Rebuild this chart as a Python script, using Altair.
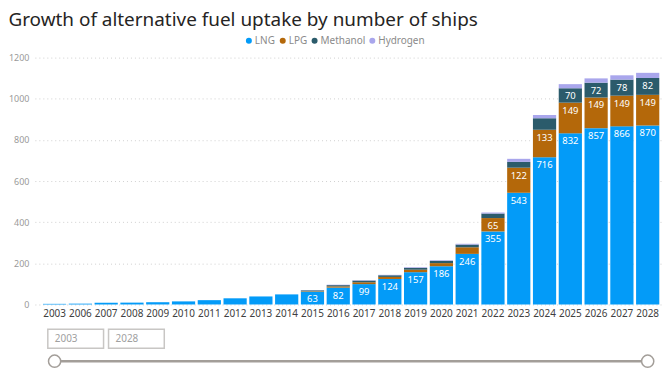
import altair as alt
import pandas as pd

years = [2003, 2006, 2007, 2008, 2009, 2010, 2011, 2012, 2013, 2014, 2015, 2016,
         2017, 2018, 2019, 2020, 2021, 2022, 2023, 2024, 2025, 2026, 2027, 2028]
lng = [3, 4, 8, 9, 11, 15, 21, 30, 39, 49, 63, 82,
       99, 124, 157, 186, 246, 355, 543, 716, 832, 857, 866, 870]
lpg = [0, 0, 0, 0, 0, 0, 0, 0, 0, 0, 3, 6,
       9, 10, 12, 15, 32, 65, 122, 133, 149, 149, 149, 149]
methanol = [0, 0, 0, 0, 0, 0, 0, 0, 0, 0, 3, 6,
            8, 8, 9, 11, 13, 22, 28, 56, 70, 72, 78, 82]
hydrogen = [0, 0, 0, 0, 0, 0, 0, 0, 0, 0, 1, 2,
            2, 2, 3, 3, 4, 5, 15, 16, 20, 21, 21, 25]
fuels = ["LNG", "LPG", "Methanol", "Hydrogen"]
colors = ["#039BF8", "#B4680A", "#2B5B6B", "#A9A6EC"]
y_ticks = [0, 200, 400, 600, 800, 1000, 1200]

FONT = "Noto Sans"

rows = []
for i, yr in enumerate(years):
    for k, vals in enumerate([lng, lpg, methanol, hydrogen]):
        rows.append({"year": str(yr), "fuel": fuels[k], "value": vals[i], "order": k})
df = pd.DataFrame(rows)

xscale = alt.Scale(domain=[str(y) for y in years], paddingInner=0.1,
                   paddingOuter=0.21, align=0.75)
x_enc = alt.X("year:O", scale=xscale, sort=None,
              axis=alt.Axis(title=None, labelAngle=0, ticks=False, domain=False,
                            labelColor="#404040", labelFontSize=10, labelPadding=4,
                            labelFont=FONT))

base = alt.Chart(df).transform_stack(
    stack="value", groupby=["year"], as_=["v0", "v1"],
    sort=[alt.SortField("order", order="ascending")])

bars = base.mark_bar().encode(
    x=x_enc,
    y=alt.Y("v0:Q", scale=alt.Scale(domain=[0, 1200]),
            axis=alt.Axis(title=None, values=y_ticks, format="d", ticks=False, domain=False,
                          gridDash=[1, 3], gridColor="#D0D0D0", labelColor="#9A9A9A",
                          labelFontSize=9, labelPadding=6, labelFont=FONT)),
    y2="v1:Q",
    color=alt.Color("fuel:N", scale=alt.Scale(domain=fuels, range=colors),
                    legend=alt.Legend(title=None, orient="none", legendX=210, legendY=-22,
                                      direction="horizontal", symbolType="circle",
                                      symbolSize=36, labelFontSize=10, labelColor="#8A8A8A",
                                      labelFont=FONT, columnPadding=2, labelOffset=1,
                                      symbolStrokeWidth=0)),
    order=alt.Order("order:Q"),
)

labels = base.transform_filter("datum.value >= 60").mark_text(
    color="white", fontSize=9.5, baseline="middle", dy=8, font=FONT
).encode(x=x_enc, y="v1:Q", text="value:Q")

# slicer widget below the chart
slider_df = pd.DataFrame({"year": [str(years[0]), str(years[-1])]})
slider_line = alt.Chart(slider_df).mark_line(color="#A39E99", strokeWidth=2.5).encode(
    x=x_enc, y=alt.value(305))
slider_knobs = alt.Chart(slider_df).mark_point(
    filled=True, fill="white", stroke="#A39E99", strokeWidth=1.5, size=150, opacity=1
).encode(x=x_enc, y=alt.value(305))

box_layers = []
for i, lab in enumerate([str(years[0]), str(years[-1])]):
    one = pd.DataFrame({"label": [lab]})
    box_layers.append(alt.Chart(one).mark_rect(fill="white", stroke="#C8C6C4", strokeWidth=1.5).encode(
        x=alt.value(13 + 61 * i), x2=alt.value(69 + 61 * i), y=alt.value(273), y2=alt.value(292)))
    box_layers.append(alt.Chart(one).mark_text(align="left", baseline="middle", fontSize=10,
                                               color="#A0A0A0", font=FONT).encode(
        x=alt.value(20 + 61 * i), y=alt.value(283), text="label:N"))

chart = alt.layer(bars, labels, slider_line, slider_knobs, *box_layers).properties(
    width=630, height=248,
    padding={"left": 0, "top": 2, "right": 0, "bottom": 0},
    title=alt.TitleParams("Growth of alternative fuel uptake by number of ships",
                          anchor="start", frame="bounds", fontSize=19, font=FONT,
                          fontWeight="normal", color="#252423", offset=6),
    background="white",
).configure_view(stroke=None)

chart.save("out.html", embed_options={"renderer": "svg", "actions": False})
